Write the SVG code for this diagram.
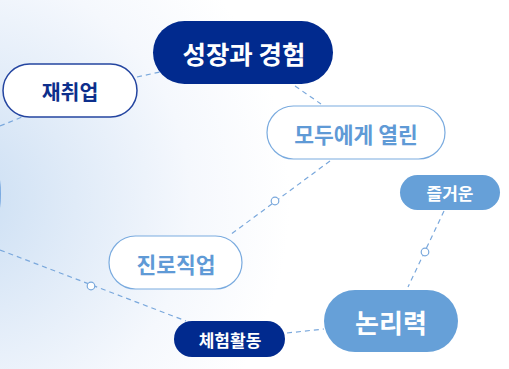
<svg xmlns="http://www.w3.org/2000/svg" width="509" height="369" viewBox="0 0 509 369">
<defs>
<radialGradient id="bg" cx="-40" cy="200" r="330" gradientUnits="userSpaceOnUse">
<stop offset="0" stop-color="#cadef3"/>
<stop offset="0.35" stop-color="#e0ebf8"/>
<stop offset="0.7" stop-color="#f5f8fd"/>
<stop offset="1" stop-color="#ffffff"/>
</radialGradient>
<radialGradient id="orb" cx="-100" cy="194" r="101" gradientUnits="userSpaceOnUse">
<stop offset="0.9" stop-color="#c4daf2" stop-opacity="0"/>
<stop offset="0.98" stop-color="#a6c7ec"/>
<stop offset="1" stop-color="#6a9fdc"/>
</radialGradient>
<style>
text{font-family:"Noto Sans CJK KR","Noto Sans",sans-serif;font-weight:700;text-anchor:middle;dominant-baseline:central}
.conn line{stroke:#7aa8dc;stroke-width:1.2;stroke-dasharray:5 4;fill:none}
.dot{fill:#ffffff;stroke:#7aa8dc;stroke-width:1.2}
.navy rect{fill:#012a8e}
.navy text{fill:#ffffff}
.sky rect{fill:#66a0d8}
.sky text{fill:#ffffff}
.outl rect{fill:#ffffff;stroke:#7aabdf;stroke-width:1.2}
.outl text{fill:#5f9ad6}
</style>
</defs>
<rect width="509" height="369" fill="#ffffff"/>
<rect width="509" height="369" fill="url(#bg)"/>
<circle cx="-100" cy="194" r="101" fill="url(#orb)"/>
<g id="connectors" class="conn">
<line x1="0" y1="126" x2="22" y2="117"/>
<line x1="137" y1="77" x2="160" y2="72"/>
<line x1="295" y1="86" x2="321" y2="104"/>
<line x1="330" y1="161" x2="230" y2="235"/>
<line x1="444" y1="211" x2="408" y2="287"/>
<line x1="287" y1="333" x2="324" y2="329"/>
<line x1="0" y1="250" x2="186" y2="321"/>
<circle class="dot" cx="275" cy="201" r="3.8"/>
<circle class="dot" cx="425" cy="252" r="3.8"/>
<circle class="dot" cx="91" cy="286" r="3.8"/>
</g>
<g id="node-growth" class="navy">
<rect x="153" y="21" width="180" height="63" rx="31.5"/>
<text x="244" y="52" font-size="25.5">성장과 경험</text>
</g>
<g id="node-reemploy">
<rect x="3" y="64" width="134" height="53" rx="26.5" fill="#ffffff" stroke="#2445a0" stroke-width="1.5"/>
<text x="70" y="91" font-size="20.5" fill="#0d2f8c">재취업</text>
</g>
<g id="node-open" class="outl">
<rect x="267" y="106" width="178" height="53" rx="26.5"/>
<text x="356" y="133" font-size="21.5">모두에게 열린</text>
</g>
<g id="node-fun" class="sky">
<rect x="400" y="175" width="100" height="35" rx="17.5"/>
<text x="450" y="192.5" font-size="17">즐거운</text>
</g>
<g id="node-career" class="outl">
<rect x="109" y="236" width="133" height="53" rx="26.5"/>
<text x="176" y="263" font-size="21.5">진로직업</text>
</g>
<g id="node-logic" class="sky">
<rect x="324" y="290" width="134" height="62" rx="31"/>
<text x="391" y="321" font-size="26">논리력</text>
</g>
<g id="node-experience" class="navy">
<rect x="174" y="321" width="111" height="36" rx="18"/>
<text x="230" y="339" font-size="17">체험활동</text>
</g>
</svg>
